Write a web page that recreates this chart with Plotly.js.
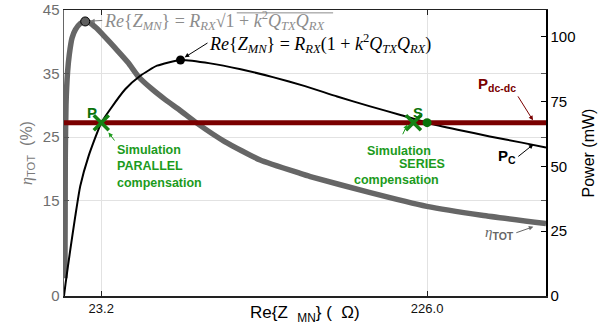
<!DOCTYPE html>
<html>
<head>
<meta charset="utf-8">
<script src="https://cdn.plot.ly/plotly-3.0.1.min.js"></script>
<style>html,body{margin:0;padding:0;background:#fff;}#chart{width:615px;height:329px;}</style>
</head>
<body>
<div id="chart"></div>
<script>
// Re{Z_MN} (ohm) values and total efficiency eta_TOT (%)
const etaX = [0.55, 0.7, 0.8, 1.24, 2.24, 3.3, 5.0, 7.1, 10.2, 13.2, 16, 20, 25, 31.9, 40, 46.4, 55, 63, 72.3, 82.7, 100, 122.1, 147, 153.3, 190, 225.8, 260, 300];
const etaY = [2.8, 12, 22.2, 30.1, 35.3, 38.0, 40.6, 41.9, 42.9, 43.2, 43.0, 42.2, 40.9, 39.0, 36.7, 34.5, 32.5, 30.9, 29.2, 27.2, 24.3, 21.4, 19.3, 18.8, 16.3, 14.1, 12.7, 11.4];

// Delivered power P_C (mW)
const pcX = [0, 1, 3.9, 7.0, 10.1, 15.3, 23.2, 28.8, 38.1, 47.5, 57.9, 72.5, 91, 110, 130, 150, 170, 190, 210, 226, 245, 265, 285, 300];
const pcY = [0, 5, 17.8, 30.7, 42.4, 54.0, 66.9, 72.1, 79.8, 85.0, 88.9, 91.1, 89.8, 87.5, 84.5, 81.0, 77.0, 73.3, 69.8, 66.9, 64.2, 61.6, 59.2, 57.3];

// DC-DC power level (mW)
const pdcX = [0, 300];
const pdcY = [66.9, 66.9];

// Peaks
const etaPeakX = [13.2], etaPeakY = [43.2];
const pcPeakX = [72.5], pcPeakY = [91.1];

// Simulation points (parallel, series) and analytic match
const simX = [23.2, 217.5];
const simY = [66.9, 66.9];
const matchX = [226.0];
const matchY = [66.9];

// Axis ticks
const xTickVals = [23.2, 226.0];
const xTickText = ['23.2', '226.0'];
const etaTicks = [0, 15, 25, 35, 45];
const powTicks = [0, 25, 50, 75, 100];
const etaMax = 45, powMax = 110.4;

const GRAY = 'rgb(102,102,102)';
const FGRAY = 'rgb(140,140,140)';
const DRED = 'rgb(122,0,0)';
const GREEN_T = 'rgb(28,155,28)';
const GREEN_D = 'rgb(10,115,10)';
const SANS = 'Liberation Sans, Arial, sans-serif';
const SERIF = 'Liberation Serif, Times New Roman, serif';

const traces = [
  {x: etaX, y: etaY, yaxis: 'y', mode: 'lines', line: {color: GRAY, width: 5.5, shape: 'spline', smoothing: 0.5}, hoverinfo: 'skip'},
  {x: pcX, y: pcY, yaxis: 'y2', mode: 'lines', line: {color: 'black', width: 2, shape: 'spline', smoothing: 0.5}, hoverinfo: 'skip'},
  {x: pdcX, y: pdcY, yaxis: 'y2', mode: 'lines', line: {color: DRED, width: 5}, hoverinfo: 'skip'},
  {x: etaPeakX, y: etaPeakY, yaxis: 'y', mode: 'markers', marker: {size: 9, color: 'rgb(95,95,95)', line: {color: 'black', width: 1}}},
  {x: pcPeakX, y: pcPeakY, yaxis: 'y2', mode: 'markers', marker: {size: 9, color: 'black'}},
  {x: simX, y: simY, yaxis: 'y2', mode: 'markers', marker: {symbol: 'x-thin', size: 15, line: {color: 'rgb(20,130,20)', width: 3.5}}},
  {x: matchX, y: matchY, yaxis: 'y2', mode: 'markers', marker: {size: 9, color: GREEN_D}}
];

function txt(x, y, text, color, size, opts) {
  return Object.assign({x: x, y: y, xref: 'x', yref: 'y', text: text, showarrow: false,
    font: {family: SANS, size: size, color: color}, xanchor: 'center', yanchor: 'middle'}, opts || {});
}
function arrowOpts(ax, ay, color, standoff, extra) {
  return Object.assign({showarrow: true, ax: ax, ay: ay, arrowhead: 2, arrowsize: 0.9, arrowwidth: 1,
    arrowcolor: color, standoff: standoff || 0}, extra || {});
}

const annotations = [
  txt(etaPeakX[0], etaPeakY[0], '<i>Re</i>{<i>Z<sub>MN</sub></i>} = <i>R<sub>RX</sub></i>√1 + <i>k</i><sup>2</sup><i>Q<sub>TX</sub>Q<sub>RX</sub></i>', FGRAY, 18,
      Object.assign({xanchor: 'left', yanchor: 'middle', font: {family: SERIF, size: 18, color: FGRAY}},
        arrowOpts(17, -1, 'rgb(120,120,120)', 5))),
  txt(pcPeakX[0], pcPeakY[0], '<i>Re</i>{<i>Z<sub>MN</sub></i>} = <i>R<sub>RX</sub></i>(1 + <i>k</i><sup>2</sup><i>Q<sub>TX</sub>Q<sub>RX</sub></i>)', 'black', 18,
      Object.assign({yref: 'y2', xanchor: 'left', yanchor: 'middle', font: {family: SERIF, size: 18, color: 'black'}},
        arrowOpts(27, -17, 'black', 5))),
  txt(17.7, 28.8, '<b>P</b>', GREEN_D, 15),
  txt(27.7, 63.1, '<b>Simulation<br>PARALLEL<br>compensation</b>', GREEN_T, 12.5,
      Object.assign({yref: 'y2', xanchor: 'left', yanchor: 'top', align: 'left'}, arrowOpts(6, 8, GREEN_T, 0))),
  txt(220.4, 28.8, '<b>S</b>', GREEN_D, 15),
  txt(213.7, 66.2, '<b>Simulation</b>', GREEN_T, 12.5,
      Object.assign({yref: 'y2', xanchor: 'center', yanchor: 'top'}, arrowOpts(-8, 17, GREEN_T, 0, {startstandoff: 8}))),
  txt(222.9, 20.8, '<b>SERIES</b>', GREEN_T, 12.5),
  txt(206.7, 18.3, '<b>compensation</b>', GREEN_T, 12.5),
  txt(291.9, 67.8, '<b>P<sub>dc-dc</sub></b>', DRED, 15,
      Object.assign({yref: 'y2', xanchor: 'right', yanchor: 'bottom'}, arrowOpts(-15, -24, DRED, 0))),
  txt(292.1, 58.5, '<b>P<sub>C</sub></b>', 'black', 15,
      Object.assign({yref: 'y2', xanchor: 'right', yanchor: 'middle'}, arrowOpts(-15, 12, 'black', 0))),
  txt(292.1, 10.9, '<span style="font-family:Liberation Serif"><i>η</i></span><sub><b>TOT</b></sub>', GRAY, 15,
      Object.assign({xanchor: 'right', yanchor: 'middle'}, arrowOpts(-17, 6, GRAY, 0))),
  {x: 0.5, y: -0.018, xref: 'paper', yref: 'paper', xanchor: 'center', yanchor: 'top', showarrow: false,
   text: 'Re{Z  <sub>MN</sub>} (  Ω)', font: {family: SANS, size: 17, color: 'black'}}
];

// radical bar over the square-root argument (text decoration)
const shapes = [
  {type: 'line', xref: 'x', yref: 'y', x0: 107.5, x1: 167.5, y0: 44.55, y1: 44.55, line: {color: FGRAY, width: 1}}
];

const layout = {
  width: 615, height: 329,
  margin: {l: 64, r: 69, t: 10, b: 33, pad: 0},
  paper_bgcolor: 'white', plot_bgcolor: 'white',
  showlegend: false,
  xaxis: {
    range: [0, 300], tickmode: 'array', tickvals: xTickVals, ticktext: xTickText,
    ticks: 'inside', ticklen: 5, tickcolor: '#222', showline: true, linecolor: '#222', linewidth: 1.5,
    mirror: 'ticks', showgrid: true, gridcolor: '#e2e2e2', zeroline: false,
    tickfont: {family: SANS, size: 13, color: '#111'}
  },
  yaxis: {
    range: [0, etaMax], tickmode: 'array', tickvals: etaTicks,
    ticks: 'inside', ticklen: 5, tickcolor: '#555', showline: true, linecolor: '#666', linewidth: 1.5,
    mirror: 'ticks',
    showgrid: true, gridcolor: '#e2e2e2', zeroline: false,
    tickfont: {family: SANS, size: 15, color: '#6e6e6e'},
    title: {text: '<span style="font-family:Liberation Serif"><i>η</i></span><sub>TOT</sub>  (%)', font: {family: SANS, size: 16, color: '#7a7a7a'}, standoff: 6}
  },
  yaxis2: {
    overlaying: 'y', side: 'right', range: [0, powMax], tickmode: 'array',
    tickvals: powTicks,
    ticks: 'inside', ticklen: 5, tickcolor: 'black', showline: true, linecolor: 'black', linewidth: 1.5,
    showgrid: false, zeroline: false,
    tickfont: {family: SANS, size: 15, color: 'black'},
    title: {text: 'Power (mW)', font: {family: SANS, size: 16, color: 'black'}, standoff: 8}
  },
  shapes: shapes,
  annotations: annotations
};

Plotly.newPlot('chart', traces, layout, {displayModeBar: false, staticPlot: true});
</script>
</body>
</html>
